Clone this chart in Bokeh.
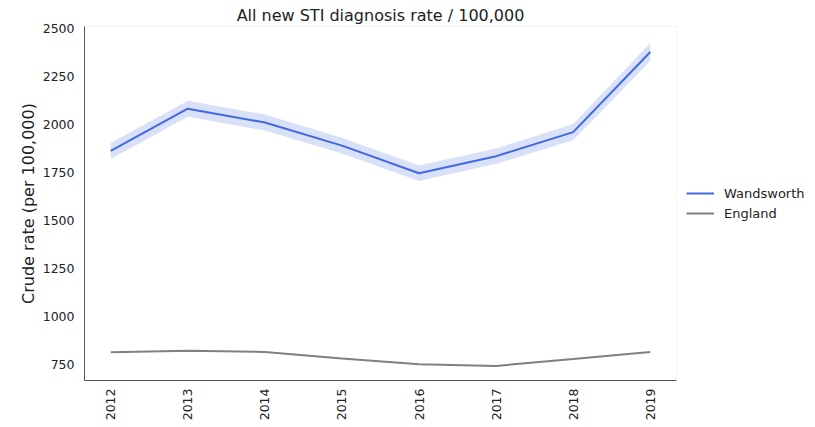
from bokeh.plotting import figure
from bokeh.models import ColumnDataSource, FixedTicker, Legend, LegendItem, Range1d, Band
from bokeh.embed import file_html
from bokeh.resources import INLINE
import math

years = [2012, 2013, 2014, 2015, 2016, 2017, 2018, 2019]
wandsworth = [1862, 2082, 2010, 1890, 1746, 1835, 1960, 2377]
wandsworth_lower = [1820, 2040, 1968, 1849, 1706, 1795, 1918, 2330]
wandsworth_upper = [1904, 2124, 2052, 1931, 1786, 1875, 2002, 2424]
england = [814, 822, 816, 781, 751, 743, 779, 816]
y_ticks = [750, 1000, 1250, 1500, 1750, 2000, 2250, 2500]

FONT = "DejaVu Sans"
BLUE = "#4169e1"
GREY = "#808080"

src = ColumnDataSource(dict(x=years, w=wandsworth, lo=wandsworth_lower,
                            hi=wandsworth_upper, e=england))

p = figure(frame_width=592, frame_height=354, output_backend="svg",
           toolbar_location=None,
           x_range=Range1d(2011.66, 2019.34), y_range=Range1d(667, 2510),
           min_border_left=84, min_border_right=0, min_border_top=26,
           min_border_bottom=0,
           title="All new STI diagnosis rate / 100,000")
p.title.text_font = FONT
p.title.text_font_size = "16px"
p.title.text_font_style = "normal"
p.title.align = "center"
p.title.text_color = "#222222"
p.title.standoff = 4

band = Band(base="x", lower="lo", upper="hi", source=src,
            fill_color=BLUE, fill_alpha=0.2, line_color=None)
p.add_layout(band)
lw = p.line("x", "w", source=src, line_color=BLUE, line_width=2)
le = p.line("x", "e", source=src, line_color=GREY, line_width=2)

p.xgrid.visible = False
p.ygrid.visible = False
p.outline_line_color = "#f2f2f2"

p.xaxis.ticker = FixedTicker(ticks=years)
p.yaxis.ticker = FixedTicker(ticks=y_ticks)
p.xaxis.major_label_orientation = math.pi / 2
for ax in (p.xaxis, p.yaxis):
    ax.major_label_text_font = FONT
    ax.major_label_text_font_size = "12.5px"
    ax.major_label_text_color = "#222222"
    ax.axis_line_color = "#555555"
    ax.major_tick_line_color = None
    ax.minor_tick_line_color = None
    ax.major_tick_out = 0
    ax.major_tick_in = 0
    ax.axis_label_text_font = FONT
    ax.axis_label_text_font_style = "normal"
    ax.axis_label_text_font_size = "16px"
    ax.axis_label_text_color = "#222222"
p.yaxis.axis_label = "Crude rate (per 100,000)"
p.yaxis.major_label_standoff = 10
p.yaxis.axis_label_standoff = 2
p.xaxis.major_label_standoff = 8

legend = Legend(items=[LegendItem(label="Wandsworth", renderers=[lw]),
                       LegendItem(label="England", renderers=[le])],
                location=(10, 157), border_line_color=None,
                background_fill_alpha=0,
                label_text_font=FONT, label_text_font_size="13px",
                label_text_color="#222222", glyph_width=28, label_standoff=10,
                spacing=0, label_height=20, glyph_height=20, margin=10,
                padding=0)
p.add_layout(legend, "right")

open("out.html", "w").write(file_html(p, INLINE))
